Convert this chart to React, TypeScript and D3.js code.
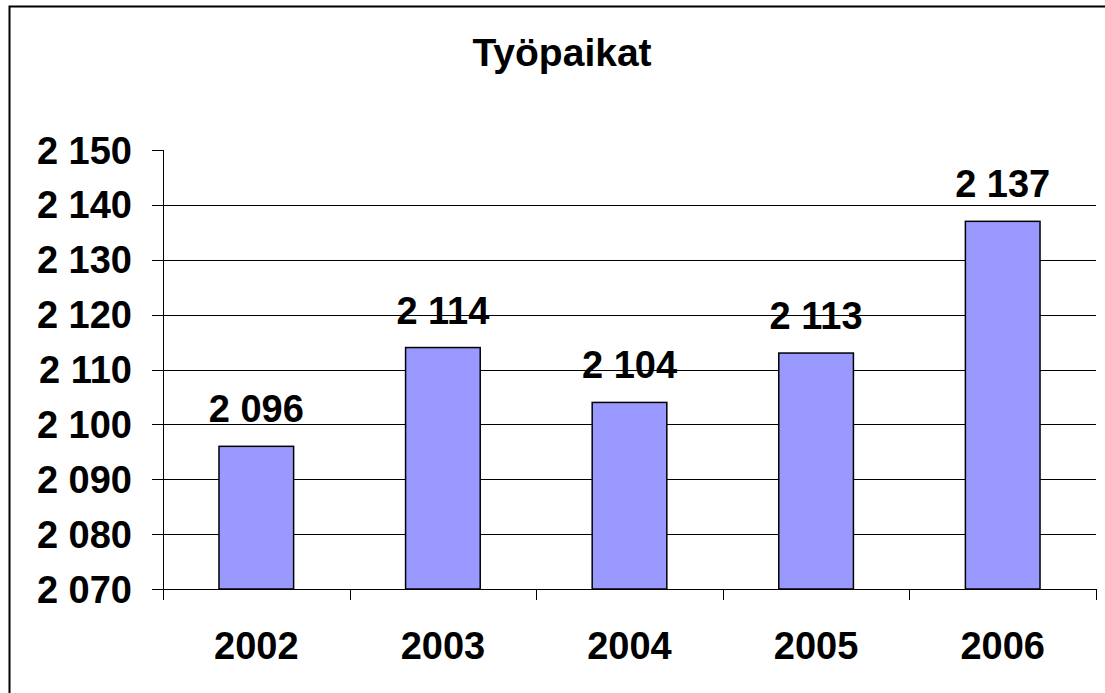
import React from 'react';
import * as d3 from 'd3';

// Työpaikat per vuosi
const years = ['2002', '2003', '2004', '2005', '2006'];
const jobs = [2096, 2114, 2104, 2113, 2137];
const yTicks = [2070, 2080, 2090, 2100, 2110, 2120, 2130, 2140, 2150];
const title = 'Työpaikat';

const W = 1105;
const H = 693;
const font = '"Liberation Sans", Arial, sans-serif';

const fmt = (v: number) => {
  const s = String(v);
  return s.slice(0, s.length - 3) + ' ' + s.slice(-3);
};

const App = () => {
  const x = d3.scaleBand<string>()
    .domain(years)
    .range([163, 1096])
    .paddingInner(0.6)
    .paddingOuter(0.3);

  const y = d3.scaleLinear()
    .domain([2070, 2150])
    .range([589, 150]);

  const step = x.step();
  const left = x.range()[0];
  const bottom = y(2070);
  const right = x.range()[1];

  return (
    <svg width={W} height={H} style={{ position: 'fixed', left: 0, top: 0, background: '#fff' }}>
      <rect x={0} y={0} width={W} height={H} fill="#fff" />
      {/* kehys */}
      <rect x={9.5} y={6.5} width={W + 20} height={H + 20} fill="none" stroke="#000" strokeWidth={2} />

      <text x={562} y={66} textAnchor="middle" fontFamily={font} fontWeight="bold" fontSize={39} fill="#000">
        {title}
      </text>

      {/* apuviivat */}
      {yTicks.filter(t => t > 2070 && t < 2150).map(t => (
        <line key={'g' + t} x1={left} x2={right} y1={Math.round(y(t)) + 0.5} y2={Math.round(y(t)) + 0.5} stroke="#000" strokeWidth={1} />
      ))}

      {/* y-akseli */}
      <line x1={left + 0.5} x2={left + 0.5} y1={y(2150)} y2={bottom} stroke="#000" strokeWidth={1} />
      {yTicks.map(t => (
        <g key={'y' + t}>
          <line x1={152} x2={left} y1={Math.round(y(t)) + 0.5} y2={Math.round(y(t)) + 0.5} stroke="#000" strokeWidth={1} />
          <text x={132} y={y(t) + 13.5} textAnchor="end" fontFamily={font} fontWeight="bold" fontSize={38} fill="#000">
            {fmt(t)}
          </text>
        </g>
      ))}

      {/* pylväät */}
      {years.map((yr, i) => (
        <g key={yr}>
          <rect
            x={x(yr)}
            y={y(jobs[i])}
            width={x.bandwidth()}
            height={bottom - y(jobs[i])}
            fill="#9999FF"
            stroke="#000"
            strokeWidth={1.5}
          />
          <text
            x={(x(yr) as number) + x.bandwidth() / 2}
            y={y(jobs[i]) - 24}
            textAnchor="middle"
            fontFamily={font}
            fontWeight="bold"
            fontSize={38}
            fill="#000"
          >
            {fmt(jobs[i])}
          </text>
        </g>
      ))}

      {/* x-akseli */}
      <line x1={left} x2={right} y1={Math.round(bottom) + 0.5} y2={Math.round(bottom) + 0.5} stroke="#000" strokeWidth={1} />
      {d3.range(years.length + 1).map(i => (
        <line key={'xt' + i} x1={Math.round(left + i * step) + 0.5} x2={Math.round(left + i * step) + 0.5} y1={bottom} y2={600} stroke="#000" strokeWidth={1} />
      ))}
      {years.map(yr => (
        <text key={'xl' + yr} x={(x(yr) as number) + x.bandwidth() / 2} y={659} textAnchor="middle" fontFamily={font} fontWeight="bold" fontSize={38} fill="#000">
          {yr}
        </text>
      ))}
    </svg>
  );
};

export default App;
